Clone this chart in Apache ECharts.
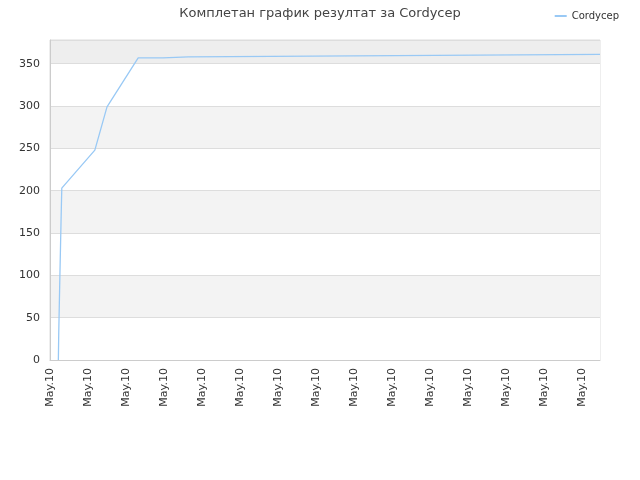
<!DOCTYPE html>
<html><head><meta charset="utf-8">
<script src="https://cdn.jsdelivr.net/npm/echarts@6/dist/echarts.min.js"></script>
<style>html,body{margin:0;padding:0;background:#fff}#c{width:640px;height:480px}</style>
</head><body><div id="c"></div>
<script>
var titleText = 'Комплетан график резултат за Cordycep';
var seriesName = 'Cordycep';
var xLabel = 'May.10';
// x in label-step units, y = score
var xs = [0.22, 0.23, 0.25, 0.26, 0.28, 0.29, 0.30, 0.31, 1.18, 1.50, 2.32, 2.97, 2.98, 3.64, 3.65, 9.07, 9.08, 14.47];
var ys = [0, 32, 33, 99, 100, 163, 165, 203, 248, 299, 357, 357, 358, 358, 359.5, 359.5, 361, 361];
var yMax = 378;
var data = xs.map(function (x, i) { return [x, ys[i]]; });
var chart = echarts.init(document.getElementById('c'));
chart.setOption({
  animation: false,
  title: { text: titleText, left: 'center', top: 2, textStyle: { fontSize: 13, fontWeight: 'normal', color: '#444', fontFamily: 'DejaVu Sans' } },
  legend: { right: 16, top: 6, itemWidth: 12, itemHeight: 2, icon: 'rect', textStyle: { fontSize: 10, color: '#333', fontFamily: 'DejaVu Sans' }, data: [seriesName] },
  grid: { left: 50, right: 40, top: 40, bottom: 120, show: true, borderColor: '#ddd', borderWidth: 1, backgroundColor: 'transparent' },
  xAxis: {
    type: 'value', min: 0, max: 14.47, interval: 1,
    axisLine: { show: true, lineStyle: { color: '#ccc' } },
    axisTick: { show: false },
    splitLine: { show: false },
    axisLabel: { rotate: 90, fontSize: 11, color: '#333', fontFamily: 'DejaVu Sans', showMaxLabel: false, formatter: function () { return xLabel; } }
  },
  yAxis: {
    type: 'value', min: 0, max: yMax, interval: 50,
    axisLine: { show: true, lineStyle: { color: '#ccc' } },
    axisTick: { show: false },
    splitLine: { show: true, lineStyle: { color: '#ddd' } },
    splitArea: { show: true, areaStyle: { color: ['#ffffff', '#f3f3f3', '#ffffff', '#f3f3f3', '#ffffff', '#f3f3f3', '#ffffff', '#eeeeee'] } },
    axisLabel: { fontSize: 11, color: '#333', fontFamily: 'DejaVu Sans', showMaxLabel: false, margin: 10 }
  },
  series: [{
    name: seriesName, type: 'line', data: data, showSymbol: false, symbol: 'none',
    lineStyle: { color: '#99c9f5', width: 1.3 }, itemStyle: { color: '#99c9f5' }
  }]
});
</script></body></html>
